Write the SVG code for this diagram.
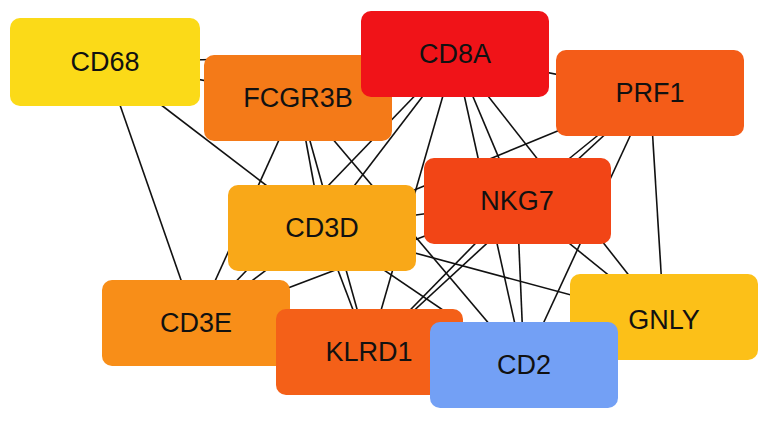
<svg xmlns="http://www.w3.org/2000/svg" width="770" height="422" viewBox="0 0 770 422">
<style>
.e line{stroke:#111;stroke-width:1.6}
rect{rx:10;ry:10}
text{font-family:"Liberation Sans",Arial,sans-serif;font-size:27px;text-anchor:middle;dominant-baseline:central;fill:#111}
</style>
<rect width="770" height="422" fill="#fff"/>
<g class="e" id="edges">
<line x1="105" y1="62" x2="298" y2="98"/><line x1="105" y1="62" x2="322" y2="228"/><line x1="105" y1="62" x2="196" y2="323"/><line x1="105" y1="62" x2="455" y2="54"/>
<line x1="298" y1="98" x2="455" y2="54"/><line x1="298" y1="98" x2="322" y2="228"/><line x1="298" y1="98" x2="196" y2="323"/><line x1="298" y1="98" x2="369" y2="352"/><line x1="298" y1="98" x2="524" y2="365"/>
<line x1="455" y1="54" x2="650" y2="93"/><line x1="455" y1="54" x2="322" y2="228"/><line x1="455" y1="54" x2="196" y2="323"/><line x1="455" y1="54" x2="369" y2="352"/><line x1="455" y1="54" x2="517" y2="201"/><line x1="455" y1="54" x2="524" y2="365"/><line x1="455" y1="54" x2="664" y2="320"/>
<line x1="650" y1="93" x2="517" y2="201"/><line x1="650" y1="93" x2="369" y2="352"/><line x1="650" y1="93" x2="524" y2="365"/><line x1="650" y1="93" x2="664" y2="320"/><line x1="650" y1="93" x2="322" y2="228"/>
<line x1="517" y1="201" x2="322" y2="228"/><line x1="517" y1="201" x2="196" y2="323"/><line x1="517" y1="201" x2="369" y2="352"/><line x1="517" y1="201" x2="524" y2="365"/><line x1="517" y1="201" x2="664" y2="320"/>
<line x1="322" y1="228" x2="196" y2="323"/><line x1="322" y1="228" x2="369" y2="352"/><line x1="322" y1="228" x2="524" y2="365"/><line x1="322" y1="228" x2="664" y2="320"/>
<line x1="196" y1="323" x2="369" y2="352"/><line x1="196" y1="323" x2="524" y2="365"/><line x1="369" y1="352" x2="524" y2="365"/><line x1="524" y1="365" x2="664" y2="320"/>
</g>
<g id="CD68"><rect x="10" y="18" width="190" height="88" fill="#FBDA18"/><text x="105" y="62">CD68</text></g>
<g id="FCGR3B"><rect x="204" y="55" width="188" height="86" fill="#F47A18"/><text x="298" y="98">FCGR3B</text></g>
<g id="CD8A"><rect x="361" y="11" width="188" height="86" fill="#F01318"/><text x="455" y="54">CD8A</text></g>
<g id="PRF1"><rect x="556" y="50" width="188" height="86" fill="#F45C18"/><text x="650" y="93">PRF1</text></g>
<g id="NKG7"><rect x="424" y="158" width="187" height="86" fill="#F24516"/><text x="517" y="201">NKG7</text></g>
<g id="CD3D"><rect x="228" y="185" width="188" height="86" fill="#F9A818"/><text x="322" y="228">CD3D</text></g>
<g id="CD3E"><rect x="102" y="280" width="188" height="86" fill="#F88E18"/><text x="196" y="323">CD3E</text></g>
<g id="KLRD1"><rect x="276" y="309" width="187" height="86" fill="#F46018"/><text x="369" y="352">KLRD1</text></g>
<g id="GNLY"><rect x="570" y="274" width="188" height="86" fill="#FCC018"/><text x="664" y="320">GNLY</text></g>
<g id="CD2"><rect x="430" y="322" width="188" height="86" fill="#73A0F5"/><text x="524" y="365">CD2</text></g>
</svg>
